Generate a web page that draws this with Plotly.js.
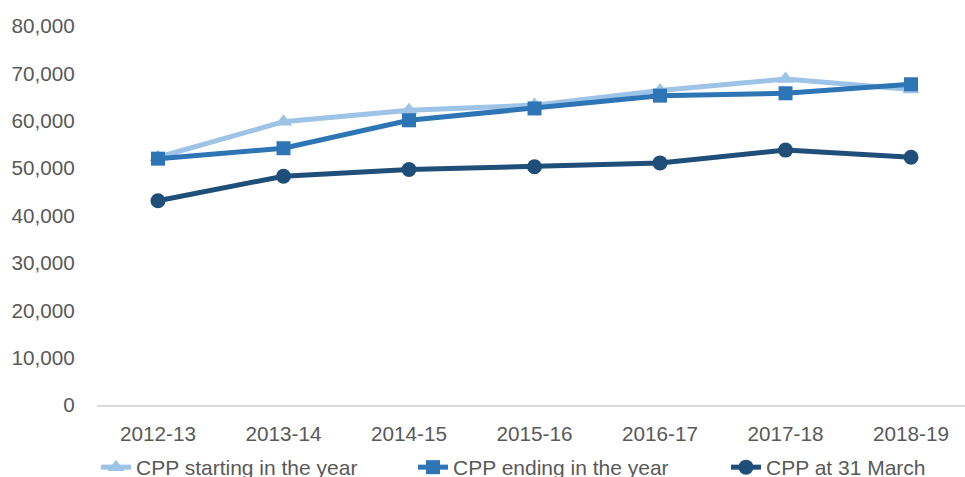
<!DOCTYPE html>
<html><head><meta charset="utf-8">
<script src="https://cdn.plot.ly/plotly-3.0.1.min.js"></script>
<style>body{margin:0;padding:0;background:#fff}#chart{width:965px;height:477px}</style>
</head><body><div id="chart"></div>
<script>
var categories = ["2012-13","2013-14","2014-15","2015-16","2016-17","2017-18","2018-19"];
var startingValues = [52300, 59800, 62200, 63300, 66400, 68800, 66600];
var endingValues = [52000, 54200, 60100, 62600, 65300, 65800, 67700];
var march31Values = [43100, 48300, 49700, 50300, 51100, 53800, 52300];
var seriesNames = ["CPP starting in the year","CPP ending in the year","CPP at 31 March"];
var yTickVals = [0,10000,20000,30000,40000,50000,60000,70000,80000];
var yTickText = ["0","10,000","20,000","30,000","40,000","50,000","60,000","70,000","80,000"];

function tr(name, y, color, symbol, size, leg){
  return {x: categories, y: y, name: name, type: 'scatter', mode: 'lines+markers', legend: leg,
    line: {color: color, width: 5}, marker: {color: color, symbol: symbol, size: size}};
}
var data = [
  tr(seriesNames[0], startingValues, '#9DC3E6', 'triangle-up', 15, 'legend'),
  tr(seriesNames[1], endingValues, '#2E75B6', 'square', 14, 'legend2'),
  tr(seriesNames[2], march31Values, '#1F4E79', 'circle', 15, 'legend3')
];
function leg(xpx){
  return {orientation: 'h', xref: 'container', yref: 'paper', x: xpx / 965, xanchor: 'left',
    y: -0.219, yanchor: 'bottom', bgcolor: 'rgba(0,0,0,0)',
    font: {size: 21, color: '#595959'}, itemwidth: 30};
}
var layout = {
  width: 965, height: 477,
  margin: {l: 97, r: 0, t: 26, b: 72, autoexpand: false},
  paper_bgcolor: '#fff', plot_bgcolor: '#fff',
  font: {family: 'Liberation Sans, Arial, sans-serif', size: 20.7, color: '#595959'},
  xaxis: {type: 'category', range: [-0.486, 6.43], showgrid: false, zeroline: false,
    showline: true, linecolor: '#d9d9d9', linewidth: 1.5,
    ticks: 'outside', ticklen: 10, tickcolor: 'rgba(0,0,0,0)',
    tickfont: {size: 20.7, color: '#595959'}},
  yaxis: {range: [0, 80000], tickvals: yTickVals, ticktext: yTickText, showgrid: false,
    zeroline: false, showline: false, ticks: 'outside', ticklen: 17, tickcolor: 'rgba(0,0,0,0)',
    tickfont: {size: 20.7, color: '#595959'}},
  showlegend: true,
  legend: leg(96),
  legend2: leg(413),
  legend3: leg(726)
};
Plotly.newPlot('chart', data, layout, {displayModeBar: false, staticPlot: true});
</script></body></html>
